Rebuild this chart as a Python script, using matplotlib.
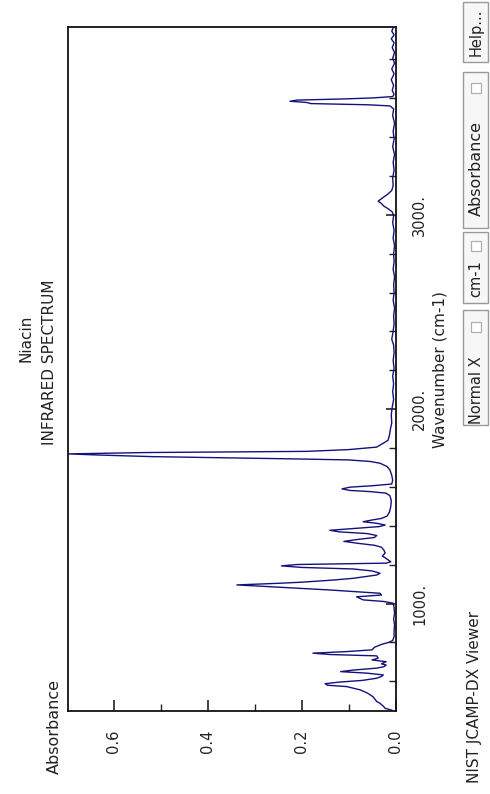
import matplotlib
matplotlib.use("Agg")
import matplotlib.pyplot as plt
from matplotlib.patches import Rectangle
from matplotlib.ticker import FixedLocator

plt.rcParams['font.family'] = ['DejaVu Sans']

# ---- data ----
wavenumber = [
    3966, 3945, 3925, 3905, 3885, 3860, 3835, 3805, 3780, 3750, 3725, 3695, 3665, 3640, 3620,
    3608, 3601, 3596, 3590, 3584, 3578, 3572, 3566, 3560, 3545,
    3510, 3470, 3430, 3390, 3350, 3310, 3270, 3230, 3190, 3150,
    3125, 3105, 3088, 3070, 3058, 3045, 3030, 3015, 2995,
    2960, 2920, 2880, 2840, 2800, 2760, 2720, 2680, 2640, 2600, 2560, 2520, 2480, 2440, 2400,
    2360, 2330, 2290, 2250, 2210, 2170, 2130, 2090, 2050, 2010, 1970, 1930, 1895, 1865, 1840,
    1825, 1805, 1792, 1783, 1777, 1770, 1764, 1756, 1744, 1739, 1731, 1722, 1705, 1688, 1660,
    1635, 1615, 1606, 1599, 1590, 1582, 1576, 1568, 1555, 1530, 1500, 1470, 1450,
    1438, 1430, 1421, 1413, 1404, 1396, 1386, 1377, 1369, 1360, 1350, 1340, 1330, 1320, 1310,
    1300, 1290, 1276, 1260, 1245, 1232, 1215, 1208, 1201, 1194, 1186, 1178, 1168, 1156,
    1147, 1130, 1121, 1110, 1104, 1096, 1085, 1070, 1053, 1044, 1035, 1019, 1011, 1002,
    980, 950, 920, 890, 860, 830, 810, 800, 790, 775, 762, 753, 745, 738, 731, 719, 710, 701,
    690, 684, 675, 668, 658, 650, 642, 633, 625, 616, 605, 596, 588, 580, 573, 556, 540, 521,
    496, 487, 470, 461, 452,
]
absorbance = [
    0.004, 0.008, 0.003, 0.009, 0.003, 0.007, 0.002, 0.006, 0.002, 0.008, 0.003, 0.009, 0.004, 0.007, 0.003,
    0.006, 0.050, 0.110, 0.210, 0.225, 0.190, 0.180, 0.060, 0.012, 0.004,
    0.006, 0.002, 0.005, 0.003, 0.006, 0.002, 0.005, 0.003, 0.006, 0.005,
    0.008, 0.017, 0.027, 0.037, 0.030, 0.025, 0.015, 0.007, 0.004,
    0.006, 0.003, 0.005, 0.002, 0.004, 0.003, 0.005, 0.002, 0.004, 0.003, 0.005, 0.002, 0.004, 0.003, 0.005,
    0.008, 0.004, 0.003, 0.005, 0.003, 0.006, 0.004, 0.006, 0.004, 0.007, 0.009, 0.008, 0.011, 0.013, 0.016,
    0.026, 0.040, 0.100, 0.190, 0.530, 0.698, 0.630, 0.520, 0.210, 0.100, 0.054, 0.033, 0.018, 0.012, 0.008,
    0.006, 0.008, 0.050, 0.097, 0.114, 0.097, 0.054, 0.020, 0.012, 0.009, 0.010, 0.013, 0.018,
    0.030, 0.050, 0.069, 0.040, 0.022, 0.035, 0.090, 0.140, 0.120, 0.060, 0.040, 0.045, 0.080, 0.110, 0.080,
    0.045, 0.030, 0.025, 0.022, 0.028, 0.020, 0.010, 0.020, 0.210, 0.243, 0.200, 0.090, 0.050, 0.033,
    0.040, 0.090, 0.133, 0.200, 0.253, 0.338, 0.253, 0.140, 0.033, 0.030, 0.083, 0.069, 0.026, 0.005,
    0.003, 0.002, 0.004, 0.002, 0.003, 0.003, 0.006, 0.015, 0.030, 0.045, 0.050, 0.104, 0.176, 0.140, 0.040, 0.037, 0.050, 0.020,
    0.030, 0.020, 0.025, 0.040, 0.090, 0.117, 0.060, 0.026, 0.030, 0.040, 0.070, 0.120, 0.150, 0.145, 0.104, 0.075, 0.060, 0.048,
    0.040, 0.033, 0.025, 0.022, 0.008,
]
abs_ticks = [0.0, 0.2, 0.4, 0.6]
abs_tick_labels = ["0.0", "0.2", "0.4", "0.6"]
abs_minor = [0.1, 0.3, 0.5]
wn_ticks = [1000, 2000, 3000]
wn_tick_labels = ["1000.", "2000.", "3000."]
wn_minor = [600, 800, 1200, 1400, 1600, 1800, 2200, 2400, 2600, 2800, 3200, 3400, 3600, 3800]
title_name = "Niacin"
title_kind = "INFRARED SPECTRUM"
x_label = "Wavenumber (cm-1)"
y_label = "Absorbance"
footer = "NIST JCAMP-DX Viewer"
buttons = ["Help...", "Absorbance", "cm-1", "Normal X"]

W, H = 490, 794
fig = plt.figure(figsize=(W / 100, H / 100), dpi=100)
fig.patch.set_facecolor('white')

def fx(x):
    return x / W

def fy(y):
    return 1 - y / H

L, R, T, B = 68, 395.5, 27, 710.5
ax = fig.add_axes([fx(L), fy(B), (R - L) / W, (B - T) / H])
ax.plot(absorbance, wavenumber, color='#12127a', lw=1.0)
ax.set_xlim(0.698, 0.0)
ax.set_ylim(450, 3966)

for s in ax.spines.values():
    s.set_color('#111111')
    s.set_linewidth(1.3)

ax.xaxis.set_major_locator(FixedLocator(abs_ticks))
ax.xaxis.set_minor_locator(FixedLocator(abs_minor))
ax.set_xticklabels(abs_tick_labels)
ax.yaxis.tick_right()
ax.yaxis.set_major_locator(FixedLocator(wn_ticks))
ax.yaxis.set_minor_locator(FixedLocator(wn_minor))
ax.set_yticklabels(wn_tick_labels)

ax.tick_params(axis='x', which='major', direction='in', length=8, width=1.2,
               labelsize=10.5, pad=14, labelrotation=90, colors='#222222')
ax.tick_params(axis='x', which='minor', direction='in', length=5, width=1.0, colors='#222222')
ax.tick_params(axis='y', which='major', direction='in', length=7, width=1.2,
               labelsize=10.5, pad=12, labelrotation=90, colors='#222222', left=False, right=True)
ax.tick_params(axis='y', which='minor', direction='in', length=5, width=1.0, colors='#222222',
               left=False, right=True)
for lab in ax.get_yticklabels():
    lab.set_va('center')

tc = '#222222'
fig.text(fx(54), fy(727), y_label, rotation=90, ha='center', va='center', fontsize=11.5, color=tc)
fig.text(fx(440), fy(370), x_label, rotation=90, ha='center', va='center', fontsize=11, color=tc)
fig.text(fx(26), fy(338), title_name, rotation=90, ha='center', va='center', fontsize=11, color=tc)
fig.text(fx(49), fy(362), title_kind, rotation=90, ha='center', va='center', fontsize=11, color=tc)
fig.text(fx(474), fy(697), footer, rotation=90, ha='center', va='center', fontsize=11, color=tc)

def box(y0, y1):
    fig.add_artist(Rectangle((fx(463), fy(y1)), (488 - 463) / W, (y1 - y0) / H,
                             transform=fig.transFigure, facecolor='#f7f7f7',
                             edgecolor='#9a9a9a', lw=1.0))

def check(yc):
    s = 10
    fig.add_artist(Rectangle((fx(475.5 - s / 2), fy(yc + s / 2)), s / W, s / H,
                             transform=fig.transFigure, facecolor='white',
                             edgecolor='#b0b0b0', lw=0.9))

# Help...
box(2, 62)
fig.text(fx(476), fy(32), buttons[0], rotation=90, ha='center', va='center', fontsize=10.5, color=tc)
# Absorbance
box(72, 228)
check(88)
fig.text(fx(476), fy(168), buttons[1], rotation=90, ha='center', va='center', fontsize=11.5, color=tc)
# cm-1
box(232, 303)
check(246)
fig.text(fx(476), fy(279), buttons[2], rotation=90, ha='center', va='center', fontsize=10.5, color=tc)
# Normal X
box(310, 425)
check(327)
fig.text(fx(476), fy(390), buttons[3], rotation=90, ha='center', va='center', fontsize=10.5, color=tc)

fig.savefig('out.png', dpi=100)
